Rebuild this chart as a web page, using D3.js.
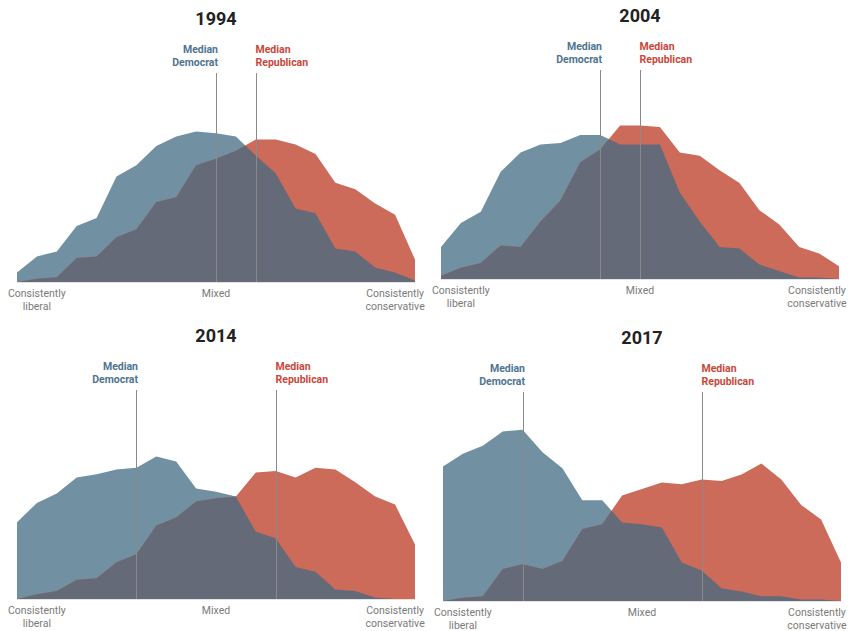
<!DOCTYPE html>
<html>
<head>
<meta charset="utf-8">
<script src="https://cdn.jsdelivr.net/npm/d3@7"></script>
<style>
  body { margin: 0; background: #fff; }
  text { font-family: Roboto, "Liberation Sans", sans-serif; }
</style>
</head>
<body>
<svg id="chart" width="848" height="631"></svg>
<script>
// Share of each party at each of 21 points on the ideological scale (%)
var years = ["1994", "2004", "2014", "2017"];

var dem1994 = [0.6, 1.6, 1.9, 3.5, 4.0, 6.6, 7.3, 8.5, 9.1, 9.4, 9.3, 9.1, 7.9, 6.8, 4.6, 4.3, 2.1, 1.9, 0.9, 0.6, 0.1];
var rep1994 = [0.0, 0.2, 0.3, 1.5, 1.6, 2.8, 3.3, 5.0, 5.3, 7.3, 7.7, 8.2, 8.9, 8.9, 8.6, 8.0, 6.2, 5.8, 4.9, 4.2, 1.4];

var dem2004 = [2.0, 3.5, 4.2, 6.7, 7.9, 8.4, 8.5, 9.0, 9.0, 8.4, 8.4, 8.4, 5.4, 3.6, 2.0, 1.9, 0.9, 0.5, 0.1, 0.1, 0.0];
var rep2004 = [0.2, 0.7, 1.0, 2.1, 2.0, 3.6, 4.9, 7.3, 8.1, 9.6, 9.6, 9.5, 7.9, 7.7, 6.8, 6.0, 4.3, 3.4, 2.0, 1.6, 0.8];

var dem2014 = [4.8, 6.0, 6.6, 7.6, 7.8, 8.1, 8.2, 8.9, 8.6, 6.9, 6.7, 6.4, 4.2, 3.8, 2.0, 1.7, 0.6, 0.5, 0.1, 0.0, 0.0];
var rep2014 = [0.0, 0.3, 0.5, 1.2, 1.3, 2.3, 2.8, 4.6, 5.1, 6.1, 6.3, 6.4, 7.9, 8.0, 7.6, 8.2, 8.1, 7.3, 6.4, 5.9, 3.4];

var dem2017 = [8.4, 9.2, 9.7, 10.6, 10.7, 9.3, 8.3, 6.3, 6.3, 4.9, 4.8, 4.6, 2.4, 1.9, 0.8, 0.6, 0.3, 0.3, 0.1, 0.1, 0.0];
var rep2017 = [0.0, 0.2, 0.3, 2.0, 2.3, 2.0, 2.5, 4.5, 4.8, 6.6, 7.0, 7.4, 7.3, 7.6, 7.5, 7.9, 8.6, 7.6, 6.0, 5.1, 2.4];

var demSeries = [dem1994, dem2004, dem2014, dem2017];
var repSeries = [rep1994, rep2004, rep2014, rep2017];

// position of the median on the scale (index 0..20)
var demMedian = [10, 8, 6, 4];
var repMedian = [12, 10, 13, 13];

// axis labels: [scale position, lines]
var axisLabels = [
    { pos: 1,  lines: ["Consistently", "liberal"] },
    { pos: 10, lines: ["Mixed"] },
    { pos: 19, lines: ["Consistently", "conservative"] }
];

// layout
var panelX = [17, 441, 17, 443];
var panelBase = [282, 279, 599, 601];
var panelW = 398;
var svgW = 848;

var BLUE = "#7190a1";
var RED = "#cd6b5b";
var OVERLAP = "#656a79";
var BLUE_TEXT = "#4f7491";
var RED_TEXT = "#c9473a";

var svg = d3.select("#chart");

years.forEach(function (year, p) {
    var dem = demSeries[p];
    var rep = repSeries[p];
    var x0 = panelX[p];
    var base = panelBase[p];

    var x = d3.scaleLinear().domain([0, 20]).range([x0, x0 + panelW]);
    var y = d3.scaleLinear().domain([0, 10]).range([base, base - 160]);

    var area = d3.area()
        .x(function (d, i) { return x(i); })
        .y0(y(0))
        .y1(function (d) { return y(d); });

    var g = svg.append("g");

    // clip to democratic area so the overlap can be painted dark
    var clipId = "clip-dem-" + year;
    g.append("clipPath")
        .attr("id", clipId)
        .append("path")
        .attr("d", area(dem));

    g.append("path")
        .attr("d", area(dem))
        .attr("fill", BLUE);

    g.append("path")
        .attr("d", area(rep))
        .attr("fill", RED);

    g.append("path")
        .attr("d", area(rep))
        .attr("fill", OVERLAP)
        .attr("clip-path", "url(#" + clipId + ")");

    // baseline
    g.append("line")
        .attr("x1", x(0)).attr("x2", x(20))
        .attr("y1", y(0) + 0.5).attr("y2", y(0) + 0.5)
        .attr("stroke", "#e3e3e3")
        .attr("stroke-width", 1);

    // title
    g.append("text")
        .attr("x", (x(0) + x(20)) / 2)
        .attr("y", base - 257)
        .attr("text-anchor", "middle")
        .attr("font-size", 18)
        .attr("font-weight", 700)
        .attr("fill", "#222")
        .text(year);

    // median lines and labels
    var lineTop = base - 209;
    var medians = [
        { pos: demMedian[p], label: "Democrat", color: BLUE_TEXT, anchor: "end", dx: 1.5 },
        { pos: repMedian[p], label: "Republican", color: RED_TEXT, anchor: "start", dx: -1 }
    ];
    medians.forEach(function (m) {
        var mx = Math.round(x(m.pos)) + 0.5;
        g.append("line")
            .attr("x1", mx).attr("x2", mx)
            .attr("y1", lineTop).attr("y2", y(0))
            .attr("stroke", "#8a8a8a")
            .attr("stroke-width", 1);

        var t = g.append("text")
            .attr("text-anchor", m.anchor)
            .attr("font-size", 10.5)
            .attr("font-weight", 700)
            .attr("fill", m.color);
        t.append("tspan").attr("x", mx + m.dx).attr("y", lineTop - 20).text("Median");
        t.append("tspan").attr("x", mx + m.dx).attr("y", lineTop - 7).text(m.label);
    });

    // axis labels
    axisLabels.forEach(function (a) {
        var t = g.append("text")
            .attr("text-anchor", "middle")
            .attr("font-size", 10.5)
            .attr("fill", "#7a7a7a");
        a.lines.forEach(function (line, k) {
            t.append("tspan")
                .attr("x", x(a.pos))
                .attr("y", base + 15 + k * 13)
                .text(line);
        });
        // keep labels inside the picture
        var bb = t.node().getBBox();
        var over = bb.x + bb.width - (svgW - 1);
        if (over > 0) {
            t.selectAll("tspan").attr("x", x(a.pos) - over);
        }
    });
});
</script>
</body>
</html>
